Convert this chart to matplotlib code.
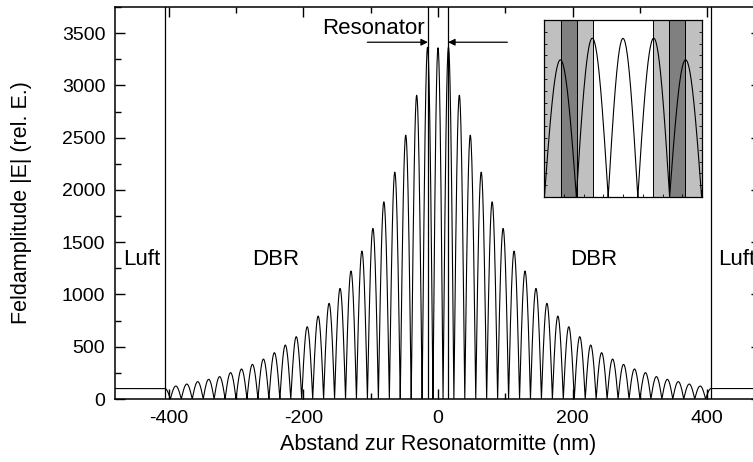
import numpy as np
import matplotlib.pyplot as plt
from matplotlib.ticker import MultipleLocator

plt.rcParams["font.family"] = ["Liberation Sans", "DejaVu Sans"]
plt.rcParams["axes.unicode_minus"] = False

# Feldamplitude im Resonator (Maximum bei 0 nm)
CENTER_PEAK = 3360
# Nullstellen rechts vom Zentrum (nm), links gespiegelt
ZEROS = [7.5, 23.6, 39.8, 56.1, 72.3, 88.6, 104.9, 121.2, 137.4, 153.7,
         170.0, 186.2, 202.5, 218.8, 235.0, 251.3, 267.6, 283.9, 300.1,
         316.4, 332.7, 348.9, 365.2, 381.5, 397.7]
# Maxima zwischen den Nullstellen (rel. E.)
PEAKS = [3365, 2906, 2524, 2170, 1886, 1632, 1415, 1224, 1058, 915,
         793, 691, 596, 516, 443, 382, 331, 287, 252, 214,
         188, 166, 143, 124]
AIR_EDGE = 406     # Grenze DBR / Luft (nm)
AIR_LEVEL = 100    # Feld in Luft
RES_EDGE = 15      # Resonatorgrenze (nm)

# Schichten im Ausschnitt (nm, Farbe)
LAYERS = [(15, 23.5, "#c0c0c0"), (23.5, 31.3, "#808080"), (31.3, 40, "#c0c0c0")]


def feldverlauf():
    xs = [np.linspace(-ZEROS[0], ZEROS[0], 60)]
    ys = [CENTER_PEAK * np.cos(np.pi * xs[0] / (2 * ZEROS[0]))]
    for z0, z1, h in zip(ZEROS[:-1], ZEROS[1:], PEAKS):
        x = np.linspace(z0, z1, 60)
        xs.append(x)
        ys.append(h * np.sin(np.pi * (x - z0) / (z1 - z0)))
    per = ZEROS[-1] - ZEROS[-2]
    x = np.linspace(ZEROS[-1], AIR_EDGE, 30)
    xs.append(x)
    ys.append(AIR_LEVEL * np.sin(np.pi * (x - ZEROS[-1]) / per) / np.sin(np.pi * (AIR_EDGE - ZEROS[-1]) / per))
    xs.append(np.array([AIR_EDGE, 500]))
    ys.append(np.array([AIR_LEVEL, AIR_LEVEL]))
    xr = np.concatenate(xs[1:])
    yr = np.concatenate(ys[1:])
    x = np.concatenate([-xr[::-1], xs[0], xr])
    y = np.concatenate([yr[::-1], ys[0], yr])
    return x, y


x, y = feldverlauf()

fig = plt.figure(figsize=(7.53, 4.62), dpi=100)
ax = fig.add_axes([115 / 753, 1 - 399 / 462, (761 - 115) / 753, (399 - 7) / 462])
ax.plot(x, y, color="black", lw=0.8)
for xv in (-AIR_EDGE, AIR_EDGE, -RES_EDGE, RES_EDGE):
    ax.axvline(xv, color="black", lw=0.9)
ax.set_xlim(-480, 480)
ax.set_ylim(0, 3750)
ax.xaxis.set_major_locator(MultipleLocator(200))
ax.xaxis.set_minor_locator(MultipleLocator(100))
ax.yaxis.set_major_locator(MultipleLocator(500))
ax.yaxis.set_minor_locator(MultipleLocator(250))
ax.tick_params(which="both", direction="in", top=True, right=True, labelsize=14, width=1)
ax.tick_params(which="major", length=7)
ax.tick_params(which="minor", length=4)
ax.tick_params(axis="x", pad=8)
ax.tick_params(axis="y", pad=7)
for s in ax.spines.values():
    s.set_linewidth(1.1)
ax.set_xlabel("Abstand zur Resonatormitte (nm)", fontsize=15.5, labelpad=5)
ax.set_ylabel("Feldamplitude |E| (rel. E.)", fontsize=15.5)
ax.yaxis.set_label_coords(-0.128, 0.5)

ax.text(-413, 1330, "Luft", fontsize=16, ha="right", va="center")
ax.text(416, 1330, "Luft", fontsize=16, ha="left", va="center", clip_on=False)
ax.text(-241, 1330, "DBR", fontsize=16, ha="center", va="center")
ax.text(231, 1330, "DBR", fontsize=16, ha="center", va="center")
ax.text(-20, 3547, "Resonator", fontsize=16, ha="right", va="center")
arrow = dict(arrowstyle="-|>", color="black", lw=0.9, mutation_scale=10, shrinkA=0, shrinkB=0)
ax.annotate("", xy=(-RES_EDGE, 3413), xytext=(-105, 3413), arrowprops=arrow)
ax.annotate("", xy=(RES_EDGE, 3413), xytext=(103, 3413), arrowprops=arrow)

# Ausschnitt um den Resonator
ins = fig.add_axes([544 / 753, 1 - 197 / 462, (702 - 544) / 753, (197 - 20) / 462])
for a, b, c in LAYERS:
    ins.axvspan(a, b, color=c, lw=0)
    ins.axvspan(-b, -a, color=c, lw=0)
    for xv in (a, b, -a, -b):
        ins.axvline(xv, color="black", lw=0.7)
ins.plot(x, y, color="black", lw=0.8)
ins.set_xlim(-40, 40)
ins.set_ylim(0, 3750)
ins.xaxis.set_major_locator(MultipleLocator(10))
ins.yaxis.set_major_locator(MultipleLocator(250))
ins.tick_params(direction="in", length=2, width=0.6, top=False, right=True,
                labelbottom=False, labelleft=False)
for s in ins.spines.values():
    s.set_linewidth(0.9)

fig.savefig("out.png", dpi=100)
